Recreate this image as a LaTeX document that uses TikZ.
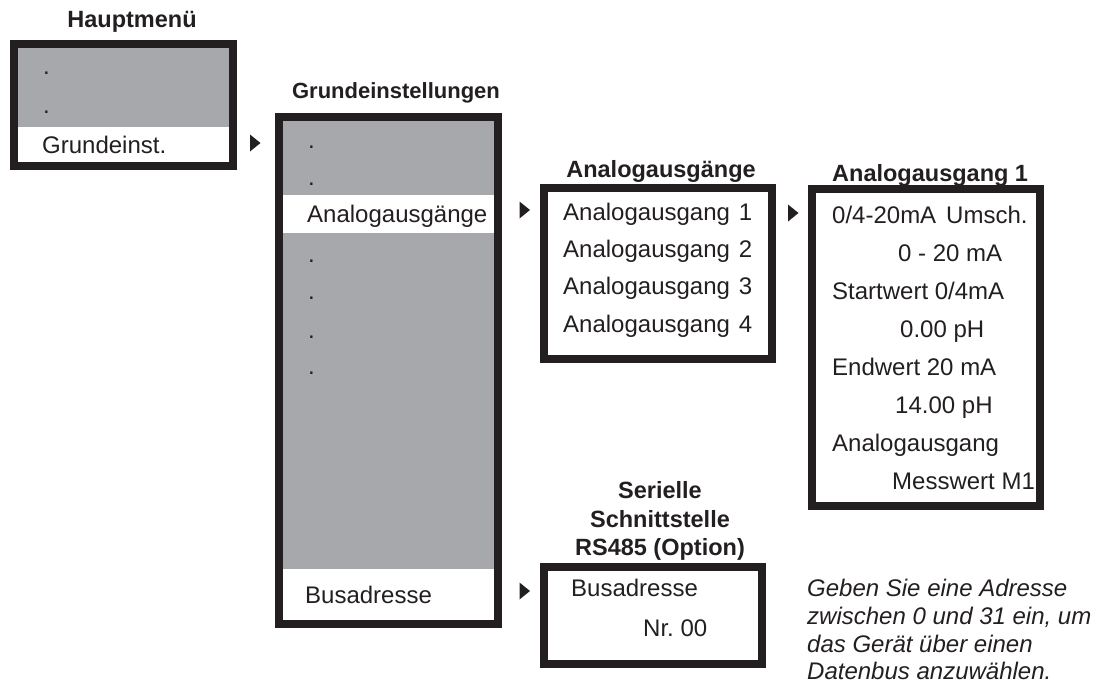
\documentclass[tikz,border=0pt]{standalone}
\usepackage{fontspec}
\setmainfont{Liberation Sans}
\definecolor{menugray}{RGB}{167,168,172}
\definecolor{frame}{RGB}{35,31,32}
\begin{document}
\begin{tikzpicture}[x=1pt,y=-1pt,
  txt/.style={anchor=base west, inner sep=0pt, text=frame, font=\fontsize{24}{28}\selectfont},
  ttl/.style={anchor=base, inner sep=0pt, text=frame, font=\bfseries\fontsize{23.5}{28}\selectfont},
  ttlw/.style={ttl, anchor=base west},
  note/.style={anchor=base west, inner sep=0pt, text=frame, font=\itshape\fontsize{24}{28}\selectfont},
  frm/.style={draw=frame, line width=8pt},
  tri/.style={fill=frame}]
\useasboundingbox (0,0) rectangle (1110,683);
% ---------- Hauptmenue
\node[ttl] (t1) at (132,27) {Hauptmenü};
\fill[menugray] (18,48) rectangle (229,127);
\fill[white] (18,127) rectangle (229,162);
\draw[frm] (14,44) rectangle (233,166);
\node[txt] (h1) at (43,74.5) {.};
\node[txt] (h2) at (43,113.5) {.};
\node[txt] (h3) at (42,153) {Grundeinst.};
\fill[tri] (250,134.5) -- (260.5,143) -- (250,151.5) -- cycle;
% ---------- Grundeinstellungen
\node[ttl, font=\bfseries\fontsize{22}{28}\selectfont] (t2) at (396,98) {Grundeinstellungen};
\fill[menugray] (283,121) rectangle (494,620);
\fill[white] (283,195) rectangle (494,233);
\fill[white] (283,569) rectangle (494,620);
\draw[frm] (279,117) rectangle (498,624);
\node[txt] (g1) at (308,148.5) {.};
\node[txt] (g2) at (308,185.5) {.};
\node[txt] (g3) at (307,222) {Analogausgänge};
\node[txt] (g4) at (308,262.5) {.};
\node[txt] (g5) at (308,299.5) {.};
\node[txt] (g6) at (308,338.5) {.};
\node[txt] (g7) at (308,374.5) {.};
\node[txt] (g8) at (305,603) {Busadresse};
\fill[tri] (519.5,201.5) -- (530,210) -- (519.5,218.5) -- cycle;
\fill[tri] (519.5,582.5) -- (530,591) -- (519.5,599.5) -- cycle;
% ---------- Analogausgaenge
\node[ttl] (t3) at (661,177) {Analogausgänge};
\draw[frm] (544,188) rectangle (772,359);
\node[txt] (a1) at (563,220) {Analogausgang\hspace{9pt}1};
\node[txt] (a2) at (563,257.3) {Analogausgang\hspace{9pt}2};
\node[txt] (a3) at (563,294.6) {Analogausgang\hspace{9pt}3};
\node[txt] (a4) at (563,332) {Analogausgang\hspace{9pt}4};
\fill[tri] (788,204.5) -- (798.5,213) -- (788,221.5) -- cycle;
% ---------- Analogausgang 1
\node[ttlw] (t4) at (832,181) {Analogausgang 1};
\draw[frm] (812,189) rectangle (1040,506);
\node[txt] (b1) at (832,223) {0/4-20mA\hspace{10pt}Umsch.};
\node[txt] (b2) at (898,261) {0 - 20 mA};
\node[txt] (b3) at (832,299) {Startwert 0/4mA};
\node[txt] (b4) at (900,337) {0.00 pH};
\node[txt] (b5) at (832,375.5) {Endwert 20 mA};
\node[txt] (b6) at (895,413.5) {14.00 pH};
\node[txt] (b7) at (832,451.5) {Analogausgang};
\node[txt] (b8) at (892,489) {Messwert M1};
% ---------- Serielle Schnittstelle
\node[ttl] (t5a) at (660,498) {Serielle};
\node[ttl] (t5b) at (660,527) {Schnittstelle};
\node[ttl] (t5c) at (660,555) {RS485 (Option)};
\draw[frm] (544,567) rectangle (762,664);
\node[txt] (s1) at (571,596.5) {Busadresse};
\node[txt] (s2) at (643,636) {Nr.~00};
% ---------- note
\node[note] (n1) at (807,596.5) {Geben Sie eine Adresse};
\node[note] (n2) at (807,624.5) {zwischen 0 und 31 ein, um};
\node[note] (n3) at (807,652) {das Gerät über einen};
\node[note] (n4) at (807,679.5) {Datenbus anzuwählen.};
\end{tikzpicture}
\end{document}
